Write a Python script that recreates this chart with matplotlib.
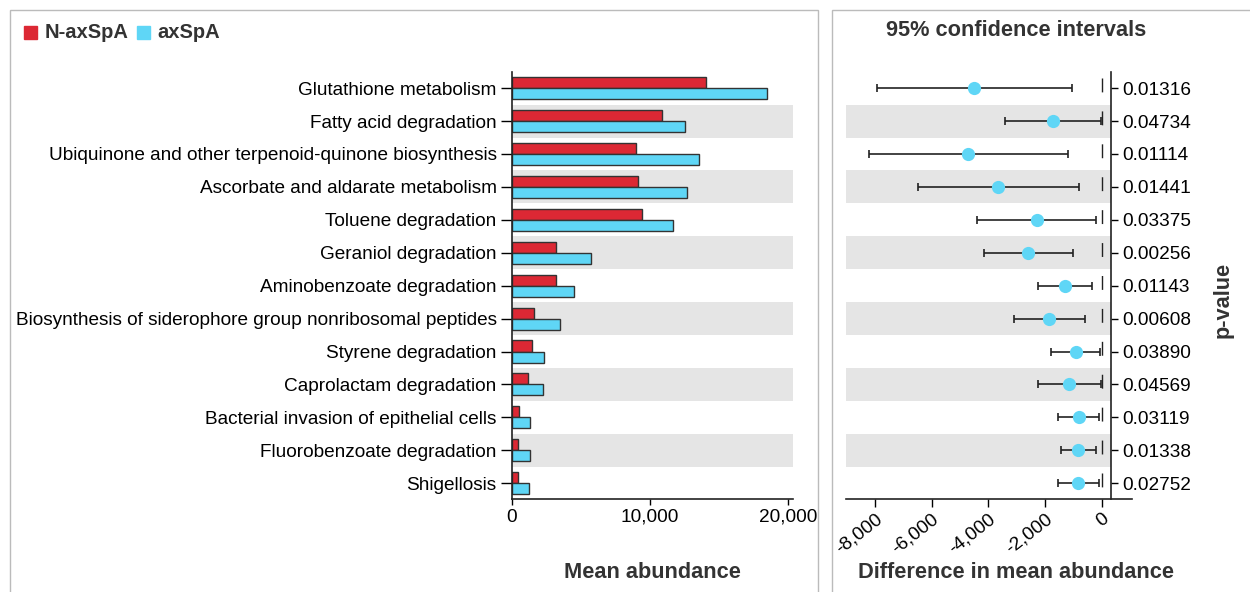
import numpy as np
import matplotlib
matplotlib.use("Agg")
import matplotlib.pyplot as plt
from matplotlib.patches import Rectangle
from matplotlib.ticker import FuncFormatter

plt.rcParams['font.family'] = ['Liberation Sans', 'DejaVu Sans']

pathways = [
    "Glutathione metabolism",
    "Fatty acid degradation",
    "Ubiquinone and other terpenoid-quinone biosynthesis",
    "Ascorbate and aldarate metabolism",
    "Toluene degradation",
    "Geraniol degradation",
    "Aminobenzoate degradation",
    "Biosynthesis of siderophore group nonribosomal peptides",
    "Styrene degradation",
    "Caprolactam degradation",
    "Bacterial invasion of epithelial cells",
    "Fluorobenzoate degradation",
    "Shigellosis",
]
n_axspa = [14085, 10885, 8945, 9115, 9430, 3200, 3176, 1624, 1455, 1139, 485, 461, 436]
axspa = [18449, 12558, 13551, 12703, 11685, 5721, 4461, 3442, 2351, 2230, 1285, 1285, 1261]
diff = [-4496, -1719, -4708, -3649, -2295, -2590, -1295, -1860, -919, -1154, -813, -825, -825]
ci_low = [-7943, -3413, -8214, -6496, -4413, -4155, -2260, -3084, -1801, -2248, -1531, -1448, -1531]
ci_high = [-1048, -36, -1201, -813, -201, -1025, -331, -589, -60, -13, -107, -201, -107]
p_values = ["0.01316", "0.04734", "0.01114", "0.01441", "0.03375", "0.00256", "0.01143",
            "0.00608", "0.03890", "0.04569", "0.03119", "0.01338", "0.02752"]

red = "#DC2834"
blue = "#5FD6F6"
band = "#E5E5E5"
edge = "#333333"
txt = "#333333"

W, H = 1250, 592
fig = plt.figure(figsize=(W / 100, H / 100), dpi=100)

def fx(px):
    return px / W

def fy(px):
    return 1 - px / H

# panel frames
fig.patches.append(Rectangle((fx(10), fy(600)), fx(808), fy(10) - fy(600),
                             transform=fig.transFigure, fill=False, ec="#BBBBBB", lw=1))
fig.patches.append(Rectangle((fx(832), fy(600)), fx(440), fy(10) - fy(600),
                             transform=fig.transFigure, fill=False, ec="#BBBBBB", lw=1))

y = np.arange(len(pathways))
bh = 0.335
tick_fs = 13.7
head_fs = 15.7

# left: mean abundance bars
ax1 = fig.add_axes([fx(512), fy(499), fx(793 - 512), fy(72) - fy(499)])
for i in y:
    if i % 2 == 1:
        ax1.axhspan(i - 0.5, i + 0.5, color=band, lw=0, zorder=0)
ax1.barh(y - bh / 2, n_axspa, height=bh, color=red, edgecolor=edge, lw=1, zorder=2)
ax1.barh(y + bh / 2, axspa, height=bh, color=blue, edgecolor=edge, lw=1, zorder=2)
ax1.set_ylim(12.48, -0.49)
ax1.set_xlim(0, 20350)
ax1.set_yticks(y)
ax1.set_yticklabels(pathways)
ax1.set_xticks([0, 10000, 20000])
ax1.xaxis.set_major_formatter(FuncFormatter(lambda v, p: f"{int(v):,}"))
ax1.tick_params(axis="y", length=8, width=1, pad=3, labelsize=tick_fs)
ax1.tick_params(axis="x", length=4, width=1, labelsize=tick_fs, pad=3)
for s in ["top", "right"]:
    ax1.spines[s].set_visible(False)
for s in ["left", "bottom"]:
    ax1.spines[s].set_linewidth(1.2)
    ax1.spines[s].set_color("#222222")

# legend
fig.patches.append(Rectangle((fx(24), fy(39)), fx(13), fy(26) - fy(39),
                             transform=fig.transFigure, color=red))
fig.text(fx(45), fy(32), "N-axSpA", fontsize=14.5, fontweight="bold", color=txt, va="center")
fig.patches.append(Rectangle((fx(137), fy(39)), fx(13), fy(26) - fy(39),
                             transform=fig.transFigure, color=blue))
fig.text(fx(157), fy(32), "axSpA", fontsize=14.5, fontweight="bold", color=txt, va="center")

# right: differences with confidence intervals
x_lo, x_hi, spine_x = -9025, 1070, 320
ax2 = fig.add_axes([fx(846), fy(499), fx(1132 - 846), fy(72) - fy(499)])
for i in y:
    if i % 2 == 1:
        ax2.axhspan(i - 0.5, i + 0.5, xmax=(spine_x - x_lo) / (x_hi - x_lo),
                    color=band, lw=0, zorder=0)
# zero reference line, drawn top-down so the dashes line up with the rows
ax2.plot([0, 0], [-0.3, 12.3], color="#222222", lw=1, ls=(0, (10, 13.7)), zorder=1)
ax2.errorbar(diff, y, xerr=[np.array(diff) - np.array(ci_low), np.array(ci_high) - np.array(diff)],
             fmt="none", ecolor="#222222", elinewidth=1.2, capsize=3, capthick=1.2, zorder=2)
ax2.plot(diff, y, "o", color=blue, ms=9.5, mec="none", zorder=3)
ax2.set_xlim(x_lo, x_hi)
ax2.set_ylim(12.48, -0.49)
ax2.set_xticks([-8000, -6000, -4000, -2000, 0])
ax2.xaxis.set_major_formatter(FuncFormatter(lambda v, p: f"{int(v):,}"))
ax2.yaxis.tick_right()
ax2.set_yticks(y)
ax2.set_yticklabels(p_values)
ax2.tick_params(axis="y", length=5, width=1, pad=3, labelsize=tick_fs)
ax2.tick_params(axis="x", length=6, width=1, labelsize=tick_fs, pad=2)
for lab in ax2.get_xticklabels():
    lab.set_rotation(38)
    lab.set_ha("right")
    lab.set_rotation_mode("anchor")
for s in ["top", "left"]:
    ax2.spines[s].set_visible(False)
ax2.spines["right"].set_position(("data", spine_x))
for s in ["right", "bottom"]:
    ax2.spines[s].set_linewidth(1.2)
    ax2.spines[s].set_color("#222222")

fig.text(fx(652), fy(573), "Mean abundance", fontsize=head_fs, fontweight="bold",
         color=txt, ha="center", va="center")
fig.text(fx(1016), fy(30), "95% confidence intervals", fontsize=head_fs, fontweight="bold",
         color=txt, ha="center", va="center")
fig.text(fx(1016), fy(573), "Difference in mean abundance", fontsize=head_fs, fontweight="bold",
         color=txt, ha="center", va="center")
fig.text(fx(1223), fy(300), "p-value", fontsize=head_fs, fontweight="bold", color=txt,
         ha="center", va="center", rotation=90)

fig.savefig("out.png", dpi=100)
